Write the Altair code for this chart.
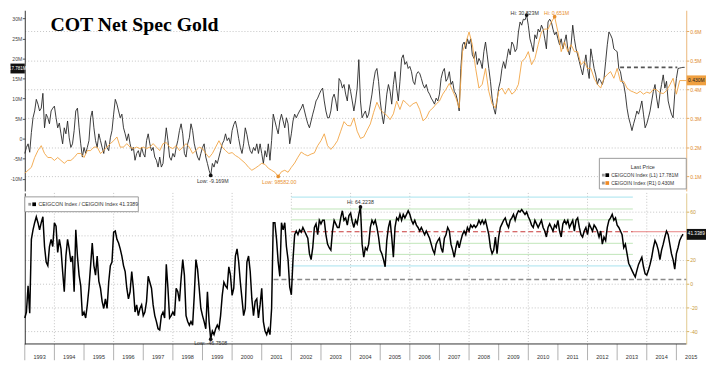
import altair as alt
import numpy as np
import pandas as pd

START = 1993.0
END = 2015.333
STEP = 1.0 / 18.0

# CEIGCON Index: net speculative position (millions), step = 1/18 year
net_spec = [
    -3.7, -2.2, -1.3, -3.4, 1.5, 5.2, 6.9, 9.8, 8.6, 6.9,
    7.6, 11.3, 2.7, 6.1, 5.2, 3.7, 6.9, 7.6, 8.1, 5.2,
    2.7, 3.9, 1.2, -1.3, 2.7, 1.2, 4.4, 0.2, -2.2, -1.3,
    2.0, 6.9, 7.6, 2.7, -1.3, -4.6, -2.2, -3.7, -2.2, -0.5,
    5.2, 6.9, 2.7, -0.5, -2.2, 1.2, -0.5, -2.2, -3.7, -0.5,
    -2.2, -3.0, 0.2, 2.0, 6.1, 9.8, 8.6, 6.9, 5.2, 6.1,
    2.7, 1.2, -0.5, 1.2, -1.3, -3.0, -2.2, -5.4, -3.7, -3.0,
    -4.6, -2.2, -3.7, -4.6, -0.5, 1.2, -1.3, -3.0, -2.2, -4.6,
    -5.4, -7.1, -4.6, -7.1, -6.2, -1.3, 2.7, -0.5, -4.6, -5.4,
    -3.7, -4.6, -2.2, -0.5, 2.0, 3.7, 1.2, -3.7, -4.6, -1.3,
    0.2, 3.7, 2.0, -1.3, -3.0, -4.6, -5.4, -3.7, -2.2, -1.3,
    -4.6, -6.2, -7.9, -9.169, -6.2, -7.1, -5.4, -6.2, -4.6, -3.0,
    -1.3, -0.5, 1.2, -0.5, 0.2, -1.3, 2.0, 3.5, 4.4, 2.5,
    0.0, -2.2, -3.7, -1.3, 2.7, 1.0, -1.3, -3.0, -3.7, -2.2,
    -3.0, -1.3, -3.7, -1.3, -3.7, -6.2, -3.0, -4.6, -1.3, -5.4,
    -0.5, 6.1, 4.4, 2.7, 1.2, 4.4, 6.1, 4.4, 2.7, 5.2,
    3.7, -1.3, 1.2, 4.4, 6.1, 5.2, 6.1, 6.9, 7.6, 8.6,
    6.9, 5.2, 3.7, 2.7, 4.4, 6.1, 7.6, 9.4, 10.1, 11.1,
    12.0, 12.6, 9.4, 6.9, 5.2, 5.2, 6.9, 10.1, 11.1, 9.4,
    6.9, 15.0, 14.3, 12.6, 13.5, 11.1, 9.4, 13.5, 11.8, 9.4,
    6.9, 9.4, 12.6, 19.7, 9.4, 5.2, 6.1, 6.9, 5.2, 6.1,
    8.6, 11.1, 14.3, 16.7, 17.5, 14.3, 9.4, 6.1, 3.7, 6.9,
    11.1, 13.5, 11.8, 8.6, 13.5, 16.7, 12.6, 9.4, 14.3, 20.0,
    20.9, 18.5, 19.2, 17.5, 18.0, 16.7, 14.3, 13.5, 16.0, 16.7,
    16.3, 15.0, 13.5, 12.6, 13.5, 11.8, 11.1, 10.1, 9.4, 8.6,
    10.1, 9.4, 11.1, 15.0, 16.7, 17.5, 14.3, 15.0, 16.7, 13.5,
    14.3, 11.8, 11.1, 9.4, 6.9, 17.5, 23.4, 24.1, 22.4, 24.9,
    23.6, 24.9, 20.9, 20.0, 21.7, 18.5, 20.0, 19.2, 17.5, 21.7,
    24.1, 20.9, 17.5, 14.3, 10.1, 7.6, 6.1, 9.4, 12.6, 14.3,
    17.5, 19.2, 17.5, 20.0, 22.4, 20.9, 24.1, 23.4, 21.7, 22.4,
    26.6, 29.1, 28.3, 29.8, 29.6, 30.823, 28.3, 24.9, 23.4, 21.7,
    25.9, 24.9, 27.3, 26.6, 28.3, 27.3, 24.9, 22.4, 29.1, 29.8,
    29.1, 27.3, 25.9, 26.6, 24.9, 23.4, 24.9, 22.4, 24.1, 25.9,
    22.4, 20.9, 23.4, 28.3, 24.9, 22.4, 20.9, 19.2, 17.5, 15.9,
    18.5, 20.9, 17.5, 15.0, 22.4, 20.0, 17.5, 15.9, 13.5, 15.0,
    14.3, 13.5, 15.0, 19.2, 23.4, 26.6, 25.9, 24.9, 22.4, 22.0,
    21.7, 17.5, 16.7, 14.3, 13.5, 11.1, 7.6, 5.2, 3.7, 2.0,
    3.7, 5.2, 6.9, 6.1, 7.6, 9.4, 6.1, 2.7, 3.7, 5.2,
    6.9, 9.4, 11.8, 13.5, 10.1, 7.6, 11.1, 13.5, 15.9, 12.6,
    14.3, 9.4, 7.6, 6.1, 5.2, 11.1, 15.0, 17.5, 17.6, 17.7,
    17.78, 17.781,
]

# CEIGOIN Index: open interest (millions), step = 2/18 year
open_int = [
    0.110, 0.120, 0.130, 0.164, 0.188, 0.205, 0.178, 0.164, 0.164, 0.154,
    0.164, 0.154, 0.144, 0.154, 0.154, 0.164, 0.178, 0.178, 0.164, 0.188,
    0.188, 0.200, 0.200, 0.178, 0.188, 0.200, 0.212, 0.222, 0.235, 0.200,
    0.200, 0.212, 0.200, 0.195, 0.200, 0.195, 0.200, 0.195, 0.200, 0.212,
    0.200, 0.188, 0.212, 0.216, 0.200, 0.195, 0.205, 0.188, 0.200, 0.212,
    0.200, 0.178, 0.188, 0.200, 0.195, 0.178, 0.164, 0.178, 0.200, 0.222,
    0.200, 0.188, 0.178, 0.181, 0.171, 0.164, 0.154, 0.144, 0.130, 0.120,
    0.127, 0.135, 0.144, 0.140, 0.127, 0.120, 0.113, 0.0985821, 0.115, 0.120,
    0.113, 0.130, 0.145, 0.165, 0.183, 0.175, 0.170, 0.176, 0.180, 0.205,
    0.222, 0.246, 0.205, 0.192, 0.205, 0.222, 0.255, 0.288, 0.275, 0.273,
    0.301, 0.255, 0.230, 0.235, 0.258, 0.280, 0.320, 0.355, 0.330, 0.318,
    0.310, 0.295, 0.315, 0.359, 0.330, 0.362, 0.352, 0.340, 0.350, 0.355,
    0.330, 0.291, 0.301, 0.325, 0.335, 0.349, 0.359, 0.383, 0.400, 0.420,
    0.395, 0.370, 0.335, 0.530, 0.560, 0.598, 0.554, 0.472, 0.404, 0.417,
    0.472, 0.393, 0.349, 0.335, 0.393, 0.404, 0.383, 0.404, 0.383, 0.393,
    0.417, 0.496, 0.506, 0.530, 0.485, 0.506, 0.554, 0.598, 0.608, 0.608,
    0.632, 0.651, 0.598, 0.530, 0.564, 0.530, 0.554, 0.530, 0.530, 0.485,
    0.496, 0.472, 0.472, 0.438, 0.417, 0.404, 0.438, 0.451, 0.461, 0.438,
    0.472, 0.427, 0.427, 0.404, 0.395, 0.390, 0.385, 0.393, 0.383, 0.390,
    0.386, 0.400, 0.398, 0.388, 0.385, 0.395, 0.415, 0.438, 0.383, 0.430,
    0.430, 0.430,
]

# CEIGCON Index / CEIGOIN Index, step = 1/18 year
ratio = [
    -29, -24, -2, -25, 37, 45, 51, 56, 51, 45,
    51, 56, 31, 18, 15, 31, 37, 31, 51, 48,
    26, 37, 29, 10, -7, 23, 37, 29, 18, 23,
    -7, 45, 23, 7, -2, -27, -24, -29, -18, -4,
    15, 34, 15, 7, 23, 2, -4, -15, -21, -13,
    -21, 1, 15, 18, 43, 44, 37, 34, 29, 23,
    15, 10, -4, -13, -7, 10, -4, -24, -18, -27,
    -21, -18, -27, -24, -15, 6, 1, -4, -18, -27,
    -32, -38, -39, -27, -24, -29, 16, -4, -29, -27,
    -24, -27, -4, -7, -15, 4, 20, 7, -27, -32,
    -35, -32, -35, -10, 20, 12, -4, -21, -27, -32,
    -38, -7, -32, -46.7508, -40, -43, -38, -35, -38, -27,
    -10, 1, -2, -4, 14, 7, -10, -4, 23, 29,
    18, 1, -13, -27, -21, 18, 23, 10, -13, -27,
    -15, -13, -29, -18, -4, -32, -40, -43, -38, -43,
    -21, 51, 51, 37, 18, 6, 51, 45, 51, 31,
    20, -3, -9.5, 20, 41, 44, 41, 45, 43, 47,
    44, 41, 38, 25, 20, 30, 47, 50, 41, 53,
    50, 53, 53, 41, 33, 30, 28, 44, 53, 50,
    47, 47, 55, 61, 53, 55, 49, 57, 59, 52,
    47, 53, 50, 58, 64.2238, 33, 22, 30, 28, 33,
    47, 53, 50, 53, 47, 39, 28, 25, 20, 14,
    36, 47, 53, 39, 22, 47, 55, 53, 58, 53,
    58, 55, 58, 61, 58, 53, 50, 53, 49, 47,
    44, 47, 44, 41, 44, 41, 38, 33, 28, 25,
    33, 36, 38, 30, 26, 38, 41, 47, 44, 33,
    28, 22, 30, 36, 30, 36, 41, 44, 41, 47,
    44, 49, 47, 49, 47, 49, 53, 50, 53, 50,
    53, 47, 41, 30, 25, 28, 39, 25, 39, 47,
    50, 53, 55, 50, 47, 53, 55, 58, 53, 58,
    61, 60, 62, 60, 58, 60, 56, 53, 49, 47,
    53, 50, 47, 50, 53, 47, 44, 39, 47, 50,
    47, 44, 49, 47, 53, 44, 39, 50, 53, 50,
    53, 47, 50, 53, 44, 53, 55, 47, 41, 39,
    44, 47, 41, 50, 47, 44, 49, 47, 44, 39,
    44, 33, 39, 36, 47, 53, 55, 58, 53, 55,
    49, 47, 44, 41, 30, 33, 25, 17, 14, 11,
    8, 5.5, 11, 16, 19, 22, 14, 8, 7, 11,
    16, 22, 30, 36, 33, 28, 20, 28, 33, 39,
    44, 41, 33, 25, 20, 12, 25, 30, 36, 39,
    41.3389,
]

years = list(range(1993, 2016))
grid_years = list(range(1994, 2015, 2))

band_levels = [72.5, 62.5, 53.4, 33.7, 24.4, 14.7]
band_colors = ["#a6e3ee", "#bfe5b8", "#bfe5b8", "#bfe5b8", "#bfe5b8", "#a6e3ee"]
band_start, band_end = 2002.0, 2013.53
mean_level = 43.4
floor_level = 3.3
floor_start = 2001.4
level_start, level_end = 2013.1, 2015.03

ann_top_black = ["Hi: 30.823M", "Low: -9.169M"]
ann_top_orange = ["Hi: 0.651M", "Low: 98582.00"]
ann_ratio = ["Hi: 64.2238", "Low: -46.7508"]

SANS = "Liberation Sans"
BLACK = "#262626"
ORANGE = "#f2a443"
GRID = "#c4c4c4"
W, H1, H2 = 670, 183, 153

df_black = pd.DataFrame({"t": START + STEP * np.arange(len(net_spec)), "v": net_spec})
df_orange = pd.DataFrame({"t": START + 2 * STEP * np.arange(len(open_int)), "v": open_int})
df_ratio = pd.DataFrame({"t": START + STEP * np.arange(len(ratio)), "v": ratio})
df_years = pd.DataFrame({"t": [float(y) for y in years],
                         "mid": [y + 0.5 for y in years],
                         "label": [str(y) for y in years]})
one = pd.DataFrame({"a": [0]})

XS = alt.Scale(domain=[START, END], nice=False, zero=False)
YL = alt.Scale(domain=[-13.05, 32.02], nice=False, zero=False)
YR = alt.Scale(domain=[0.0485, 0.673], nice=False, zero=False)
YB = alt.Scale(domain=[-50.8, 76.0], nice=False, zero=False)


def xn(field="t"):
    return alt.X(f"{field}:Q", scale=XS, axis=None)


def ptext(txt, x, y, size=6.0, color="#333", align="left", font=SANS, weight="normal"):
    return alt.Chart(one).mark_text(
        text=txt, align=align, baseline="middle", fontSize=size, font=font,
        color=color, fontWeight=weight,
    ).encode(x=alt.value(x), y=alt.value(y))


def prect(x0, x1, y0, y1, fill, stroke=None):
    kw = {"fill": fill}
    if stroke:
        kw["stroke"] = stroke
        kw["strokeWidth"] = 1
    return alt.Chart(one).mark_rect(**kw).encode(
        x=alt.value(x0), x2=alt.value(x1), y=alt.value(y0), y2=alt.value(y1))


def psq(x, y, color, size=16):
    return alt.Chart(one).mark_square(size=size, color=color, opacity=1).encode(
        x=alt.value(x), y=alt.value(y))


def marker(df, color, ys):
    return alt.Chart(df).mark_point(filled=True, size=14, color=color, opacity=1).encode(
        x=xn(), y=alt.Y("v:Q", scale=ys, axis=None))


def mlabel(df, color, ys, dy, dx=0):
    return alt.Chart(df).mark_text(color=color, fontSize=5.3, font=SANS, dy=dy, dx=dx,
                                   baseline="middle").encode(
        x=xn(), y=alt.Y("v:Q", scale=ys, axis=None), text="label:N")


# ---------------- top panel ----------------
top_xaxis = alt.Axis(values=grid_years, grid=True, gridDash=[1, 2], gridColor=GRID,
                     labels=False, ticks=False, domain=True, domainColor="#a6a6a6",
                     domainWidth=3, title=None)
left_axis = alt.Axis(orient="left", values=list(range(-10, 31, 5)),
                     labelExpr="datum.value == 0 ? '0' : datum.value + 'M'",
                     grid=False, tickSize=2.5, labelFontSize=5.2, labelFont=SANS,
                     labelColor="#444", tickColor="#555", domainColor="#333",
                     labelPadding=0.5, title=None)
right_axis = alt.Axis(orient="right", values=[0.1, 0.2, 0.3, 0.4, 0.5, 0.6],
                      labelExpr="format(datum.value, '.1f') + 'M'",
                      grid=True, gridDash=[1, 2], gridColor=GRID, tickSize=2.5,
                      labelFontSize=5.2, labelFont=SANS, labelColor="#e08a2a",
                      tickColor="#e8a860", domainColor="#ebb779", labelPadding=1,
                      title=None)

black_line = alt.Chart(df_black).mark_line(color=BLACK, strokeWidth=0.9).encode(
    x=alt.X("t:Q", scale=XS, axis=top_xaxis),
    y=alt.Y("v:Q", scale=YL, axis=left_axis))
orange_line = alt.Chart(df_orange).mark_line(color=ORANGE, strokeWidth=0.9).encode(
    x=xn(), y=alt.Y("v:Q", scale=YR, axis=right_axis))

df_lvl = pd.DataFrame({"t": [level_start], "t1": [level_end], "v": [net_spec[-1]]})
lvl = alt.Chart(df_lvl).mark_rule(color="#555", strokeDash=[4, 3], strokeWidth=1.6).encode(
    x=xn(), x2="t1:Q", y=alt.Y("v:Q", scale=YL, axis=None))

ib_hi, ib_lo = int(np.argmax(net_spec)), int(np.argmin(net_spec))
df_bhi = pd.DataFrame({"t": [df_black.t[ib_hi]], "v": [net_spec[ib_hi]], "label": [ann_top_black[0]]})
df_blo = pd.DataFrame({"t": [df_black.t[ib_lo]], "v": [net_spec[ib_lo]], "label": [ann_top_black[1]]})
io_hi, io_lo = int(np.argmax(open_int)), int(np.argmin(open_int))
df_ohi = pd.DataFrame({"t": [df_orange.t[io_hi]], "v": [open_int[io_hi]], "label": [ann_top_orange[0]]})
df_olo = pd.DataFrame({"t": [df_orange.t[io_lo]], "v": [open_int[io_lo]], "label": [ann_top_orange[1]]})

top = alt.layer(
    black_line, orange_line, lvl,
    marker(df_bhi, "#111", YL), mlabel(df_bhi, "#333", YL, -2.5, -2),
    marker(df_blo, "#111", YL), mlabel(df_blo, "#333", YL, 6, 2),
    marker(df_ohi, "#e8902e", YR), mlabel(df_ohi, "#e8902e", YR, -3.5, 2),
    marker(df_olo, "#e8902e", YR), mlabel(df_olo, "#e8902e", YR, 6, 1),
    ptext("COT Net Spec Gold", 26, 15, size=20, color="#000", font="Liberation Serif",
          weight="bold"),
    prect(582, 670, 150, 181, "#ffffff", "#9a9a9a"),
    ptext("Last Price", 626, 159, size=5.5, align="center"),
    psq(586, 167, "#9a9a9a", 8), psq(590, 167, "#000000", 14),
    ptext("CEIGCON Index  (L1)  " + f"{net_spec[-1]:.3f}M", 594, 167, size=5),
    psq(586, 175, "#9a9a9a", 8), psq(590, 175, "#f08a24", 14),
    ptext("CEIGOIN Index  (R1)  " + f"{open_int[-1]:.3f}M", 594, 175, size=5),
    prect(-14.5, 0, 54, 64, "#111111"),
    ptext(f"{net_spec[-1]:.3f}M", -7.2, 59, size=4.6, color="#ffffff", align="center"),
    prect(670.5, 690, 66, 76, "#f0a040"),
    ptext(f"{open_int[-1]:.3f}M", 680.2, 71, size=5, color="#222", align="center"),
).resolve_scale(y="independent").properties(width=W, height=H1)

# ---------------- bottom panel ----------------
ratio_axis = alt.Axis(orient="right", values=[-40, -20, 0, 20, 40, 60], grid=True,
                      labelExpr="datum.value == 40 ? '' : datum.value",
                      gridDash=[1, 2], gridColor=GRID, tickSize=2.5, labelFontSize=5.2,
                      labelFont=SANS, labelColor="#c99a3a", tickColor="#d8b060",
                      domainColor="#e2c98e", labelPadding=1, title=None)
left_dom = alt.Axis(orient="left", labels=False, ticks=False, grid=False, domain=True,
                    domainColor="#333", title=None)

vgrid = alt.Chart(pd.DataFrame({"t": grid_years})).mark_rule(
    color=GRID, strokeDash=[1, 2], strokeWidth=1).encode(x=xn())

# year band under the lower panel: separators, baseline, labels
year_sep = alt.Chart(df_years).mark_rule(color="#b0b0b0", strokeWidth=1).encode(
    x=xn(), y=alt.value(H2), y2=alt.value(H2 + 16.5))
df_base = pd.DataFrame({"t": [START], "t1": [END]})
year_base = alt.Chart(df_base).mark_rule(color="#333", strokeWidth=1).encode(
    x=xn(), x2="t1:Q", y=alt.value(H2))
year_lab = alt.Chart(df_years[df_years["mid"] < END + 0.6]).mark_text(
    fontSize=5.6, font=SANS, color="#333", baseline="middle").encode(
    x=xn("mid"), y=alt.value(H2 + 13.5), text="label:N")

df_bands = pd.DataFrame({"t": [band_start] * len(band_levels), "t1": [band_end] * len(band_levels),
                         "level": band_levels, "color": band_colors})
bands = alt.Chart(df_bands).mark_rule(strokeWidth=1).encode(
    x=xn(), x2="t1:Q", y=alt.Y("level:Q", scale=YB, axis=left_dom),
    color=alt.Color("color:N", scale=None))

df_mean = pd.DataFrame({"t": [band_start], "t1": [band_end], "v": [mean_level]})
mean_dash = alt.Chart(df_mean).mark_rule(color="#c83a3a", strokeDash=[5, 3], strokeWidth=1.2).encode(
    x=xn(), x2="t1:Q", y=alt.Y("v:Q", scale=YB, axis=None))
df_mean2 = pd.DataFrame({"t": [band_end], "t1": [END], "v": [mean_level]})
mean_solid = alt.Chart(df_mean2).mark_rule(color="#e06060", strokeWidth=0.8).encode(
    x=xn(), x2="t1:Q", y=alt.Y("v:Q", scale=YB, axis=None))
df_floor = pd.DataFrame({"t": [floor_start], "t1": [END], "v": [floor_level]})
floor = alt.Chart(df_floor).mark_rule(color="#8a8a8a", strokeDash=[5, 3], strokeWidth=1.5).encode(
    x=xn(), x2="t1:Q", y=alt.Y("v:Q", scale=YB, axis=None))

ratio_line = alt.Chart(df_ratio).mark_line(color="#000000", strokeWidth=1.5).encode(
    x=xn(), y=alt.Y("v:Q", scale=YB, axis=ratio_axis))

ir_hi, ir_lo = int(np.argmax(ratio)), int(np.argmin(ratio))
df_rhi = pd.DataFrame({"t": [df_ratio.t[ir_hi]], "v": [ratio[ir_hi]], "label": [ann_ratio[0]]})
df_rlo = pd.DataFrame({"t": [df_ratio.t[ir_lo]], "v": [ratio[ir_lo]], "label": [ann_ratio[1]]})

bottom = alt.layer(
    vgrid, year_sep, year_base, year_lab, bands, mean_dash, mean_solid, floor, ratio_line,
    marker(df_rhi, "#111", YB), mlabel(df_rhi, "#333", YB, -5),
    marker(df_rlo, "#111", YB), mlabel(df_rlo, "#333", YB, 4),
    prect(0, 115, 4, 19, "#ffffff", "#9a9a9a"),
    psq(5, 11.5, "#9a9a9a", 8), psq(9.5, 11.5, "#000000", 14),
    ptext("CEIGCON Index / CEIGOIN Index " + f"{ratio[-1]:.4f}", 14, 11.5, size=5.3),
    prect(670.5, 690, 36.5, 47.5, "#111111"),
    ptext(f"{ratio[-1]:.4f}", 680.2, 42, size=4.8, color="#ffffff", align="center"),
).resolve_axis(y="independent").properties(width=W, height=H2)

chart = alt.vconcat(top, bottom, spacing=1).properties(
    padding={"left": 0, "right": 0, "top": 0, "bottom": 0},
    background="white",
).configure_view(stroke=None)

chart.save("out.html", embed_options={"renderer": "svg", "actions": False})
